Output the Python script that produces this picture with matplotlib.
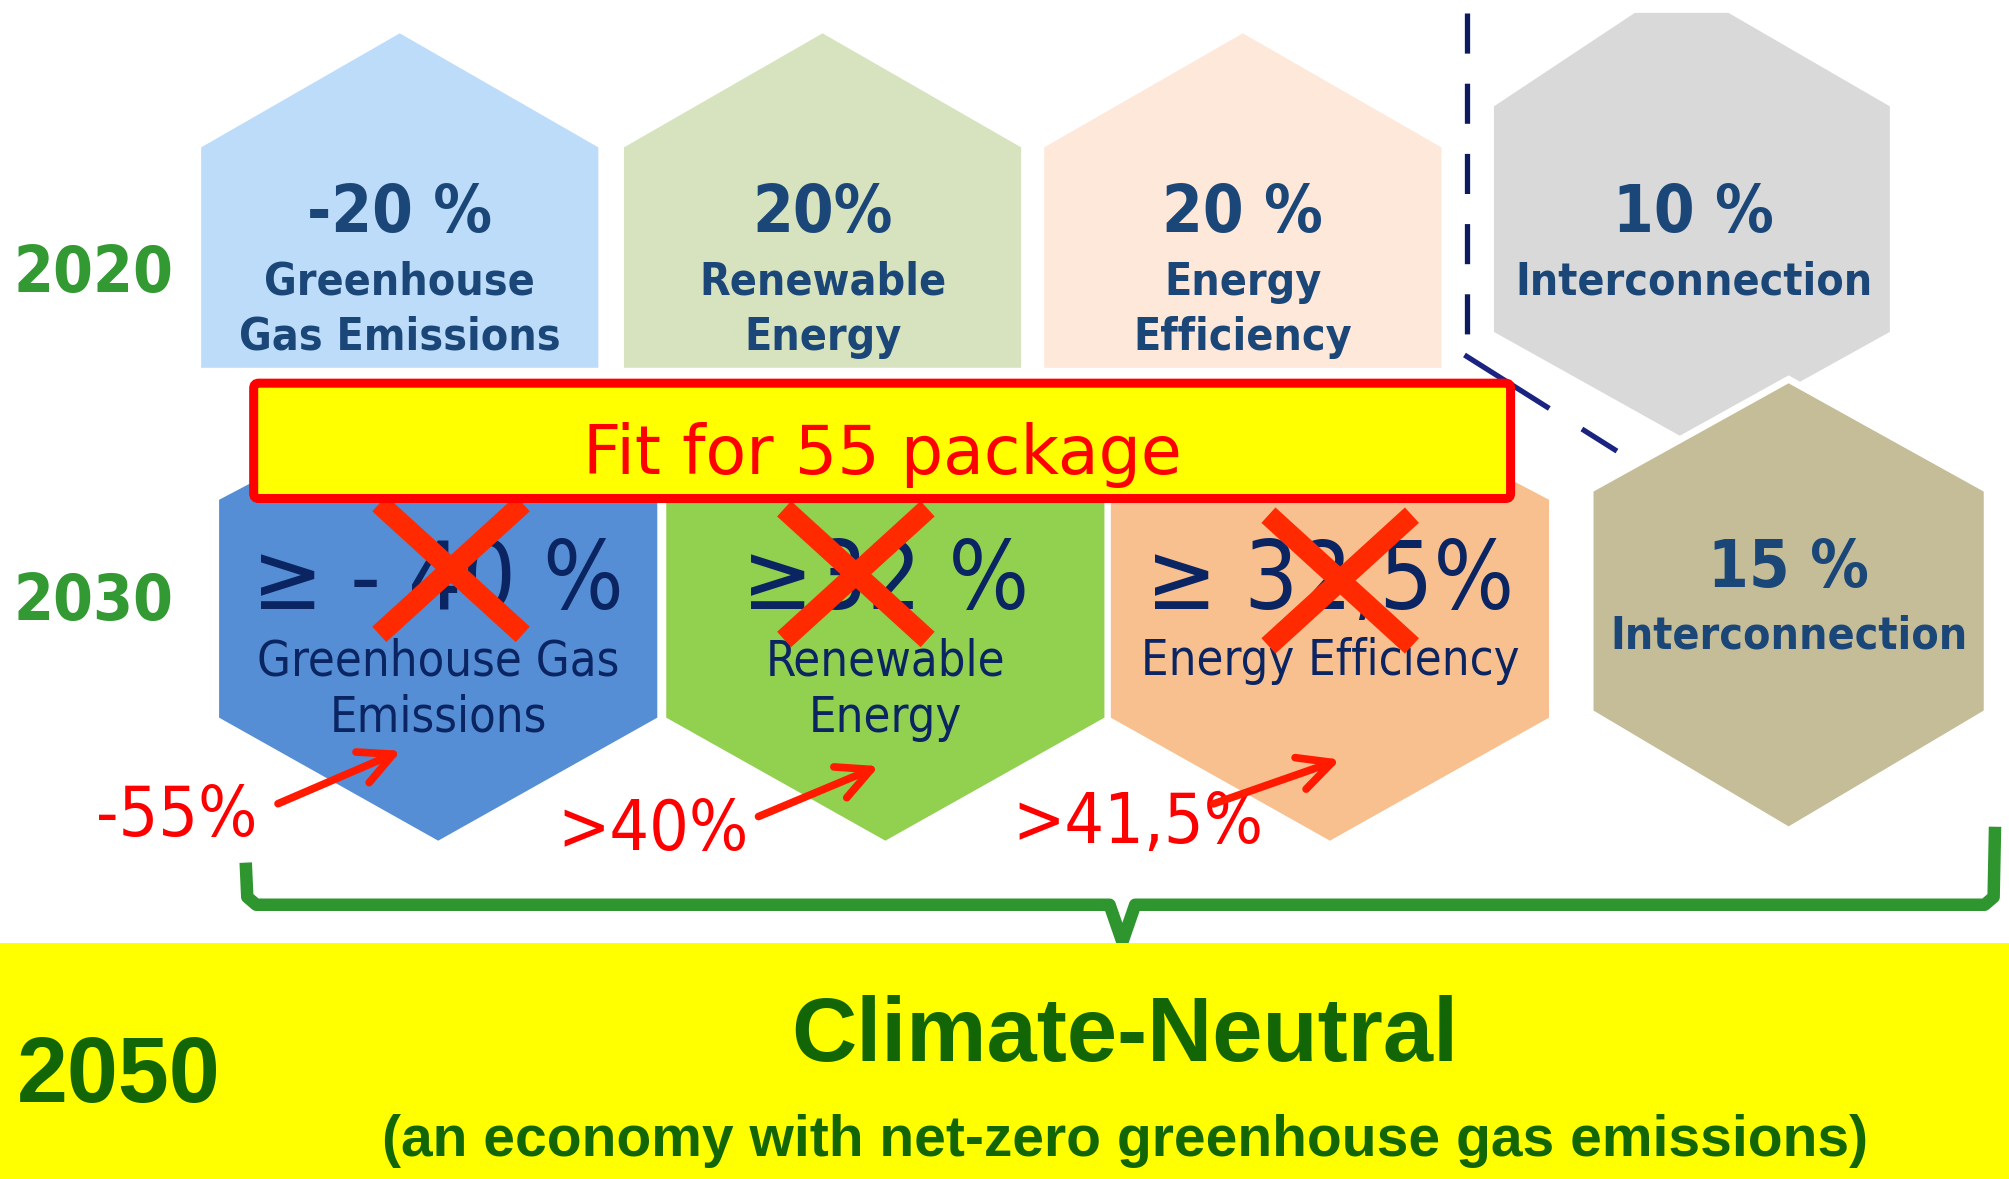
import matplotlib
matplotlib.use("Agg")
from matplotlib import pyplot as plt
from matplotlib import font_manager
from matplotlib.patches import Polygon, FancyBboxPatch, Rectangle

# --- data -------------------------------------------------------------
years = ["2020", "2030", "2050"]
targets_2020 = ["-20 %", "20%", "20 %", "10 %"]
labels_2020 = [["Greenhouse", "Gas Emissions"], ["Renewable", "Energy"],
               ["Energy", "Efficiency"], ["Interconnection"]]
targets_2030 = ["\u2265 - 40 %", "\u226532 %", "\u2265 32,5%", "15 %"]
labels_2030 = [["Greenhouse Gas", "Emissions"], ["Renewable", "Energy"],
               ["Energy Efficiency"], ["Interconnection"]]
fit55_new = ["-55%", ">40%", ">41,5%"]
package_name = "Fit for 55 package"
goal_2050 = "Climate-Neutral"
goal_2050_note = "(an economy with net-zero greenhouse gas emissions)"

colors_2020 = ["#bddcfa", "#d7e3bf", "#fde8da", "#d9d9d9"]
colors_2030 = ["#558ed5", "#92d050", "#f8c08f", "#c4bd98"]

names = {f.name for f in font_manager.fontManager.ttflist}
narrow = "Liberation Sans Narrow" if "Liberation Sans Narrow" in names else "Liberation Sans"

navy20 = "#1b4678"
navy30 = "#0b2563"
green = "#339933"
dkgreen = "#126606"
red = "#ff0000"

fig = plt.figure(figsize=(20.09, 11.79), dpi=100)
ax = fig.add_axes([0, 0, 1, 1])
ax.set_xlim(0, 1568)
ax.set_ylim(920, 0)
ax.axis("off")

# 2020 row: house shapes + grey hexagon
for i, x0 in enumerate([157, 487, 815]):
    w = 310
    pts = [(x0, 287), (x0, 115), (x0 + w / 2, 26), (x0 + w, 115), (x0 + w, 287)]
    ax.add_patch(Polygon(pts, closed=True, fc=colors_2020[i], ec="none", zorder=1))
grey = [(1276, 10), (1349, 10), (1475, 83), (1475, 259), (1320, 345),
        (1166, 259), (1166, 83)]
ax.add_patch(Polygon(grey, closed=True, fc=colors_2020[3], ec="none", zorder=1))

# 2030 row hexagons
for i, x0 in enumerate([171, 520, 867]):
    w = 342
    pts = [(x0, 560), (x0, 390), (x0 + w / 2, 300), (x0 + w, 390),
           (x0 + w, 560), (x0 + w / 2, 656)]
    ax.add_patch(Polygon(pts, closed=True, fc=colors_2030[i], ec="none", zorder=2))
tan = [(1241, 382), (1396, 296), (1551, 382), (1551, 556), (1396, 648), (1241, 556)]
ax.add_patch(Polygon(tan, closed=True, fc=colors_2030[3], ec="white", lw=5, zorder=2))

# dashed separator
ax.plot([1145, 1145], [10, 276], color="#0d1b5e", lw=3.8, dashes=(7.6, 5.7), zorder=6)
ax.plot([1143, 1262], [277, 352], color="#1a2380", lw=3.8, dashes=(19, 7.3), zorder=6)

# year labels
vfont = dict(family="DejaVu Sans", fontstretch="condensed")
ax.text(73, 228, years[0], color=green, fontsize=46, fontweight="bold", ha="center", **vfont)
ax.text(73, 484, years[1], color=green, fontsize=46, fontweight="bold", ha="center", **vfont)

# 2020 texts
cx20 = [312, 642, 970, 1322]
for i, cx in enumerate(cx20):
    ax.text(cx, 181, targets_2020[i], color=navy20, fontsize=47, fontweight="bold",
            ha="center", zorder=4, **vfont)
    for j, line in enumerate(labels_2020[i]):
        ax.text(cx, 230 + 43 * j, line, color=navy20, fontsize=32, fontweight="bold",
                ha="center", zorder=4, **vfont)

# 2030 texts
cx30 = [342, 691, 1038]
for i, cx in enumerate(cx30):
    ax.text(cx, 475, targets_2030[i], color=navy30, fontsize=68, ha="center",
            zorder=4, **vfont)
    for j, line in enumerate(labels_2030[i]):
        ax.text(cx, 527 + 44 * j, line, color=navy30, fontsize=35, ha="center",
                zorder=4, **vfont)
ax.text(1396, 458, targets_2030[3], color=navy20, fontsize=47, fontweight="bold",
        ha="center", zorder=4, **vfont)
ax.text(1396, 506, labels_2030[3][0], color=navy20, fontsize=32, fontweight="bold",
        ha="center", zorder=4, **vfont)

# crossed-out old targets
for cx, cy in [(352, 444), (668, 448), (1046, 453)]:
    ax.plot([cx - 56, cx + 56], [cy - 51, cy + 51], color="#ff2a00", lw=15,
            solid_capstyle="butt", zorder=5)
    ax.plot([cx + 56, cx - 56], [cy - 51, cy + 51], color="#ff2a00", lw=15,
            solid_capstyle="butt", zorder=5)

# Fit for 55 box
ax.add_patch(FancyBboxPatch((198, 299), 981, 90, boxstyle="round,pad=0,rounding_size=4",
                            fc="#ffff00", ec=red, lw=6.5, zorder=7))
ax.text(689, 370, package_name, color=red, fontsize=48, ha="center", zorder=8,
        family="DejaVu Sans")

# new targets with arrows
new_pos = [(138, 652), (510, 663), (888, 658)]
arrows = [((215, 628), (315, 585)), ((590, 638), (688, 597)), ((945, 628), (1048, 592))]
for txt, (tx, ty), (a0, a1) in zip(fit55_new, new_pos, arrows):
    ax.text(tx, ty, txt, color=red, fontsize=50, ha="center", zorder=8,
            family="DejaVu Sans", fontstretch="condensed")
    ax.annotate("", xy=a1, xytext=a0,
                arrowprops=dict(arrowstyle="->", color="#ff1a00", lw=5.5, mutation_scale=60),
                zorder=8)

# green bracket
bx = [192, 193, 200, 866, 876, 886, 1549, 1556, 1557]
by = [678, 700, 706, 706, 735, 706, 706, 700, 650]
ax.plot(bx, by, color="#2f962f", lw=9, solid_joinstyle="round", zorder=3)

# 2050 band
ax.add_patch(Rectangle((0, 736), 1568, 184, fc="#ffff00", ec="none", zorder=3))
ax.text(93, 860, years[2], color=dkgreen, fontsize=66, fontweight="bold",
        ha="center", family=narrow, zorder=4)
ax.text(878, 828, goal_2050, color=dkgreen, fontsize=65, fontweight="bold",
        ha="center", family=narrow, zorder=4)
ax.text(878, 902, goal_2050_note, color=dkgreen, fontsize=41, fontweight="bold",
        ha="center", family=narrow, zorder=4)

fig.savefig("out.png", dpi=100)
